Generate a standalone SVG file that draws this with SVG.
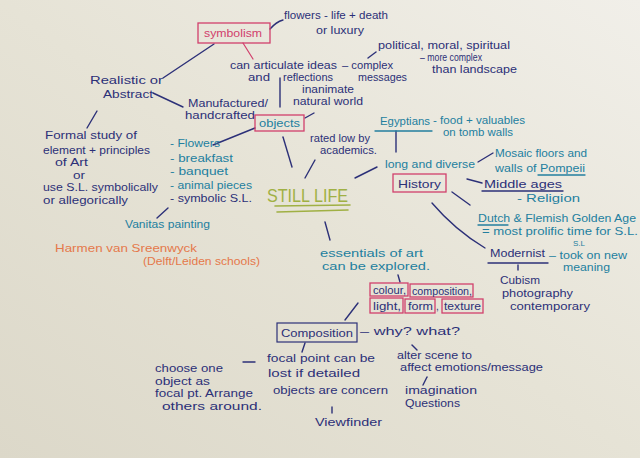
<svg xmlns="http://www.w3.org/2000/svg" width="640" height="458" viewBox="0 0 640 458">
<defs>
<linearGradient id="paper" x1="0" y1="1" x2="1" y2="0">
<stop offset="0" stop-color="#dcd8c9"/>
<stop offset="0.5" stop-color="#e6e3d6"/>
<stop offset="1" stop-color="#f1efe9"/>
</linearGradient>
<style>
text{font-family:"Liberation Sans","DejaVu Sans",sans-serif;font-size:11px;}
.s{font-size:10px;}
.m{font-size:10.5px;}
.n{fill:#2c3078;}
.t{fill:#237f9f;}
.p{fill:#d1406c;}
.o{fill:#e5784a;}
.g{fill:#a0b044;}
.ln{stroke:#2c3078;stroke-width:1.4;fill:none;stroke-linecap:round;}
.lt{stroke:#237f9f;stroke-width:1.3;fill:none;stroke-linecap:round;}
.lp{stroke:#d1406c;stroke-width:1.2;fill:none;stroke-linecap:round;}
.bp{stroke:#d1406c;stroke-width:1.3;fill:none;}
.bn{stroke:#2c3078;stroke-width:1.2;fill:none;}
.lg{stroke:#a0b044;stroke-width:1.6;fill:none;stroke-linecap:round;}
</style>
</defs>
<rect x="0" y="0" width="640" height="458" fill="url(#paper)"/>

<g id="connectors">
<path class="ln" d="M270,29 Q276,22 283,20"/>
<path class="lp" d="M243,43 L253,59"/>
<path class="ln" d="M280,78 L280,107"/>
<path class="ln" d="M368,58 L376,52"/>
<path class="ln" d="M305,118 L314,113"/>
<path class="ln" d="M163,78 L214,44"/>
<path class="ln" d="M153,93 L183,107"/>
<path class="ln" d="M97,111 L87,128"/>
<path class="ln" d="M255,128 L213,145"/>
<path class="ln" d="M168,208 L157,218"/>
<path class="ln" d="M283,137 L292,167"/>
<path class="ln" d="M315,160 L305,178"/>
<path class="ln" d="M355,178 L377,167"/>
<path class="ln" d="M396,131 L396,152"/>
<path class="ln" d="M478,162 L493,153"/>
<path class="ln" d="M467,179 L482,183"/>
<path class="ln" d="M452,192 L470,205"/>
<path class="ln" d="M432,203 Q455,230 485,248"/>
<path class="ln" d="M518,265 L518,270"/>
<path class="ln" d="M325,222 L330,240"/>
<path class="ln" d="M398,275 L400,282"/>
<path class="ln" d="M358,303 L345,320"/>
<path class="ln" d="M412,345 L417,350"/>
<path class="ln" d="M427,377 L423,385"/>
<path class="ln" d="M305,343 L302,352"/>
<path class="ln" d="M332,407 L332,413"/>
<path class="ln" d="M243,362 L255,362"/>
</g>

<g id="symbolism">
<rect class="bp" x="198" y="23" width="72" height="20"/>
<text class="p" x="204" y="37" textLength="58" lengthAdjust="spacingAndGlyphs">symbolism</text>
</g>
<g id="flowers-note">
<text class="n" x="284" y="19" textLength="104" lengthAdjust="spacingAndGlyphs">flowers - life + death</text>
<text class="n" x="316" y="34" textLength="48" lengthAdjust="spacingAndGlyphs">or luxury</text>
</g>
<g id="political">
<text class="n s" x="378" y="49" textLength="132" lengthAdjust="spacingAndGlyphs">political, moral, spiritual</text>
<text class="n s" x="420" y="61" textLength="62" lengthAdjust="spacingAndGlyphs">– more complex</text>
<text class="n s" x="432" y="73" textLength="85" lengthAdjust="spacingAndGlyphs">than landscape</text>
</g>
<g id="articulate">
<text class="n s" x="230" y="69" textLength="107" lengthAdjust="spacingAndGlyphs">can articulate ideas</text>
<text class="n s" x="342" y="69" textLength="51" lengthAdjust="spacingAndGlyphs">– complex</text>
<text class="n s" x="248" y="81" textLength="22" lengthAdjust="spacingAndGlyphs">and</text>
<text class="n s" x="283" y="81" textLength="50" lengthAdjust="spacingAndGlyphs">reflections</text>
<text class="n s" x="358" y="81" textLength="49" lengthAdjust="spacingAndGlyphs">messages</text>
</g>
<g id="inanimate">
<text class="n s" x="302" y="93" textLength="52" lengthAdjust="spacingAndGlyphs">inanimate</text>
<text class="n s" x="293" y="105" textLength="70" lengthAdjust="spacingAndGlyphs">natural world</text>
</g>
<g id="realistic">
<text class="n" x="90" y="84" textLength="73" lengthAdjust="spacingAndGlyphs">Realistic or</text>
<text class="n" x="103" y="98" textLength="50" lengthAdjust="spacingAndGlyphs">Abstract</text>
</g>
<g id="manufactured">
<text class="n s" x="188" y="107" textLength="80" lengthAdjust="spacingAndGlyphs">Manufactured/</text>
<text class="n s" x="185" y="119" textLength="70" lengthAdjust="spacingAndGlyphs">handcrafted</text>
</g>
<g id="objects">
<rect class="bp" x="255" y="115" width="49" height="16"/>
<text class="t" x="259" y="127" textLength="41" lengthAdjust="spacingAndGlyphs">objects</text>
</g>
<g id="formal">
<text class="n m" x="45" y="139" textLength="92" lengthAdjust="spacingAndGlyphs">Formal study of</text>
<text class="n m" x="43" y="154" textLength="107" lengthAdjust="spacingAndGlyphs">element + principles</text>
<text class="n m" x="55" y="166" textLength="33" lengthAdjust="spacingAndGlyphs">of Art</text>
<text class="n m" x="73" y="178.5" textLength="12" lengthAdjust="spacingAndGlyphs">or</text>
<text class="n m" x="43" y="191" textLength="115" lengthAdjust="spacingAndGlyphs">use S.L. symbolically</text>
<text class="n m" x="43" y="204" textLength="85" lengthAdjust="spacingAndGlyphs">or allegorically</text>
</g>
<g id="object-list">
<text class="t" x="170" y="147" textLength="50" lengthAdjust="spacingAndGlyphs">- Flowers</text>
<text class="t" x="170" y="162" textLength="63" lengthAdjust="spacingAndGlyphs">- breakfast</text>
<text class="t" x="170" y="175" textLength="58" lengthAdjust="spacingAndGlyphs">- banquet</text>
<text class="t" x="170" y="189" textLength="82" lengthAdjust="spacingAndGlyphs">- animal pieces</text>
<text class="n" x="170" y="202" textLength="82" lengthAdjust="spacingAndGlyphs">- symbolic S.L.</text>
</g>
<g id="vanitas">
<text class="t" x="125" y="228" textLength="85" lengthAdjust="spacingAndGlyphs">Vanitas painting</text>
</g>
<g id="harmen">
<text class="o" x="55" y="252" textLength="142" lengthAdjust="spacingAndGlyphs">Harmen van Sreenwyck</text>
<text class="o" x="143" y="265" textLength="117" lengthAdjust="spacingAndGlyphs">(Delft/Leiden schools)</text>
</g>
<g id="rated">
<text class="n s" x="310" y="142" textLength="60" lengthAdjust="spacingAndGlyphs">rated low by</text>
<text class="n s" x="320" y="154" textLength="57" lengthAdjust="spacingAndGlyphs">academics.</text>
</g>
<g id="still-life">
<text class="g" x="267" y="202" style="font-size:18px" textLength="81" lengthAdjust="spacingAndGlyphs">STILL LIFE</text>
<path class="lg" d="M275,206 L350,205"/>
<path class="lg" d="M277,212 L348,210"/>
</g>
<g id="egyptians">
<text class="t" x="380" y="125" textLength="50" lengthAdjust="spacingAndGlyphs">Egyptians</text>
<path class="lt" d="M375,131 L432,131"/>
<text class="t s" x="433" y="124" textLength="92" lengthAdjust="spacingAndGlyphs">- food + valuables</text>
<text class="t s" x="443" y="136" textLength="70" lengthAdjust="spacingAndGlyphs">on tomb walls</text>
</g>
<g id="long-diverse">
<text class="t" x="385" y="168" textLength="90" lengthAdjust="spacingAndGlyphs">long and diverse</text>
</g>
<g id="history">
<rect class="bp" x="393" y="174" width="53" height="18"/>
<text class="n" x="398" y="187.5" textLength="43" lengthAdjust="spacingAndGlyphs">History</text>
</g>
<g id="mosaic">
<text class="t" x="495" y="157" textLength="92" lengthAdjust="spacingAndGlyphs">Mosaic floors and</text>
<text class="t" x="495" y="172" textLength="90" lengthAdjust="spacingAndGlyphs">walls of Pompeii</text>
<path class="lt" d="M538,175 L585,175"/>
</g>
<g id="middle-ages">
<text class="n" x="484" y="188" textLength="78" lengthAdjust="spacingAndGlyphs">Middle ages</text>
<path class="ln" d="M482,191 L563,191"/>
<text class="t" x="517" y="202" textLength="63" lengthAdjust="spacingAndGlyphs">- Religion</text>
</g>
<g id="dutch">
<text class="t m" x="478" y="222" textLength="158" lengthAdjust="spacingAndGlyphs">Dutch &amp; Flemish Golden Age</text>
<path class="lt" d="M478,225 L508,225"/>
<text class="t m" x="482" y="234.5" textLength="156" lengthAdjust="spacingAndGlyphs">= most prolific time for S.L.</text>
</g>
<g id="modernist">
<text class="n" x="490" y="257" textLength="55" lengthAdjust="spacingAndGlyphs">Modernist</text>
<path class="ln" d="M488,263 L548,263"/>
<text class="t" x="573" y="246" style="font-size:8px" textLength="12" lengthAdjust="spacingAndGlyphs">S.L</text>
<text class="t" x="549" y="259" textLength="78" lengthAdjust="spacingAndGlyphs">– took on new</text>
<text class="t" x="563" y="271" textLength="47" lengthAdjust="spacingAndGlyphs">meaning</text>
</g>
<g id="cubism">
<text class="n m" x="500" y="284" textLength="40" lengthAdjust="spacingAndGlyphs">Cubism</text>
<text class="n m" x="502" y="297" textLength="71" lengthAdjust="spacingAndGlyphs">photography</text>
<text class="n m" x="510" y="309.5" textLength="80" lengthAdjust="spacingAndGlyphs">contemporary</text>
</g>
<g id="essentials">
<text class="t" x="320" y="257" textLength="103" lengthAdjust="spacingAndGlyphs">essentials of art</text>
<text class="t" x="322" y="270" textLength="108" lengthAdjust="spacingAndGlyphs">can be explored.</text>
</g>
<g id="elements">
<rect class="bp" x="370" y="283" width="38" height="13"/>
<text class="n s" x="373" y="294" textLength="33" lengthAdjust="spacingAndGlyphs">colour,</text>
<rect class="bp" x="410" y="284" width="63" height="13"/>
<text class="n s" x="412" y="295" textLength="60" lengthAdjust="spacingAndGlyphs">composition,</text>
<rect class="bp" x="370" y="298" width="33" height="15"/>
<text class="n s" x="373" y="310" textLength="28" lengthAdjust="spacingAndGlyphs">light,</text>
<rect class="bp" x="405" y="299" width="30" height="14"/>
<text class="n s" x="408" y="310" textLength="25" lengthAdjust="spacingAndGlyphs">form</text>
<text class="n s" x="436" y="310">,</text>
<rect class="bp" x="442" y="299" width="41" height="14"/>
<text class="n s" x="444" y="310" textLength="37" lengthAdjust="spacingAndGlyphs">texture</text>
</g>
<g id="composition">
<rect class="bn" x="277" y="323" width="80" height="19"/>
<text class="n" x="281" y="337" textLength="72" lengthAdjust="spacingAndGlyphs">Composition</text>
</g>
<g id="why-what">
<text class="n" x="360" y="335" textLength="100" lengthAdjust="spacingAndGlyphs">– why? what?</text>
</g>
<g id="alter-scene">
<text class="n s" x="397" y="359" textLength="75" lengthAdjust="spacingAndGlyphs">alter scene to</text>
<text class="n s" x="400" y="371" textLength="143" lengthAdjust="spacingAndGlyphs">affect emotions/message</text>
</g>
<g id="imagination">
<text class="n" x="405" y="394" textLength="72" lengthAdjust="spacingAndGlyphs">imagination</text>
<text class="n" x="405" y="407" textLength="55" lengthAdjust="spacingAndGlyphs">Questions</text>
</g>
<g id="focal-point">
<text class="n" x="267" y="362" textLength="108" lengthAdjust="spacingAndGlyphs">focal point can be</text>
<text class="n" x="268" y="377" textLength="92" lengthAdjust="spacingAndGlyphs">lost if detailed</text>
<text class="n" x="273" y="394" textLength="115" lengthAdjust="spacingAndGlyphs">objects are concern</text>
</g>
<g id="viewfinder">
<text class="n" x="315" y="426" textLength="67" lengthAdjust="spacingAndGlyphs">Viewfinder</text>
</g>
<g id="choose-one">
<text class="n m" x="155" y="372" textLength="68" lengthAdjust="spacingAndGlyphs">choose one</text>
<text class="n m" x="155" y="384.5" textLength="55" lengthAdjust="spacingAndGlyphs">object as</text>
<text class="n m" x="155" y="397" textLength="98" lengthAdjust="spacingAndGlyphs">focal pt. Arrange</text>
<text class="n m" x="162" y="410" textLength="100" lengthAdjust="spacingAndGlyphs">others around.</text>
</g>
</svg>
